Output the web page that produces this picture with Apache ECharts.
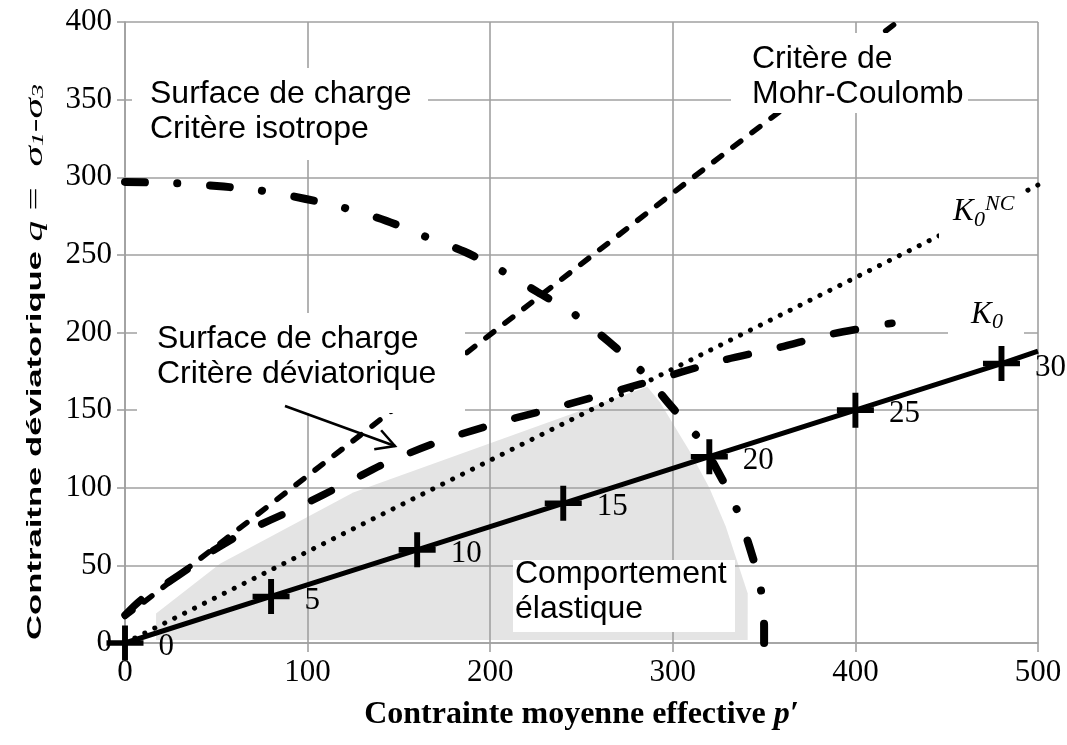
<!DOCTYPE html>
<html>
<head>
<meta charset="utf-8">
<script src="https://cdn.jsdelivr.net/npm/echarts@6/dist/echarts.min.js"></script>
<style>
  html, body { margin: 0; padding: 0; background: #fff; }
  #chart { width: 1067px; height: 745px; }
</style>
</head>
<body>
<div id="chart"></div>
<script>
// valeurs (p', q)
var k0Points = [[0, 0], [80, 30], [160, 60], [240, 90], [320, 120], [400, 150], [480, 180]];
var k0Labels = ["0", "5", "10", "15", "20", "25", "30"];
var k0Line = [[0, 0], [80, 30], [160, 60], [240, 90], [320, 120], [400, 150], [480, 180], [500, 188]];
var k0ncLine = [[0, 0], [447, 263], [500, 295]];
var mohrCoulomb = [[0, 17], [129, 134], [309, 298], [423, 400]];
var deviatoric = [[0, 18], [9, 28], [21, 37], [36, 49], [45, 57], [65, 71], [94, 87], [123, 104], [143, 116],
  [175, 131], [208, 143], [237, 152], [283, 167], [327, 182], [357, 190], [387, 199], [420, 206]];
var isotrope = [[0, 297], [30, 296], [54, 294], [77, 291], [99, 286], [121, 280], [143, 272], [164, 262],
  [186, 252], [206, 240], [226, 226], [247, 211], [265, 194], [283, 175], [298, 154], [314, 132],
  [324, 112], [334, 89], [342, 62], [348, 36], [350, 10], [350, 0]];
var elasticZone = [[17, 2], [17, 19], [52, 51], [125, 97], [286, 165], [293, 155], [309, 124],
  [320, 100], [329, 75], [341, 32], [341, 2]];
var xTicks = [0, 100, 200, 300, 400, 500];
var yTicks = [0, 50, 100, 150, 200, 250, 300, 350, 400];

var sans = '"Liberation Sans", Arial, sans-serif';
var serif = '"Liberation Serif", "Times New Roman", serif';
var gridColor = "#a0a0a0";

var myChart = echarts.init(document.getElementById("chart"));

var plusPath = "path://M42,0H58V42H100V58H58V100H42V58H0V42H42Z";

function textBox(x, y, w, h) {
  return { type: "rect", z: 100, shape: { x: x, y: y, width: w, height: h }, style: { fill: "#fff" } };
}
function label(x, y, text, font) {
  return { type: "text", z: 101, x: x, y: y, style: { text: text, font: font, fill: "#000", lineHeight: 35 } };
}

// fleche
var a0 = [285, 406], a1 = [395, 446];
var ang = Math.atan2(a1[1] - a0[1], a1[0] - a0[0]);
var wing = 21, spread = 0.5;
var w1 = [a1[0] - wing * Math.cos(ang - spread), a1[1] - wing * Math.sin(ang - spread)];
var w2 = [a1[0] - wing * Math.cos(ang + spread), a1[1] - wing * Math.sin(ang + spread)];

myChart.setOption({
  animation: false,
  grid: { left: 125, right: 29, top: 22, bottom: 102, containLabel: false },
  xAxis: {
    type: "value",
    min: 0,
    max: 500,
    interval: 100,
    z: 1,
    axisLine: { show: true, onZero: false, lineStyle: { color: gridColor, width: 1.6 } },
    axisTick: { show: true, length: 9, lineStyle: { color: gridColor, width: 1.6 } },
    splitLine: { show: true, lineStyle: { color: gridColor, width: 1.6 } },
    axisLabel: {
      color: "#000",
      fontFamily: serif,
      fontSize: 31,
      margin: 14,
      formatter: function (v) { return xTicks.indexOf(v) >= 0 ? String(v) : ""; }
    },
    name: "{b|Contrainte moyenne effective }{p|p\u2032}",
    nameLocation: "middle",
    nameGap: 56,
    nameTextStyle: {
      rich: {
        b: { fontFamily: serif, fontWeight: "bold", fontSize: 32, color: "#000" },
        p: { fontFamily: serif, fontWeight: "bold", fontStyle: "italic", fontSize: 32, color: "#000" }
      }
    }
  },
  yAxis: {
    type: "value",
    min: 0,
    max: 400,
    interval: 50,
    z: 1,
    axisLine: { show: true, onZero: false, lineStyle: { color: gridColor, width: 1.6 } },
    axisTick: { show: true, length: 8, lineStyle: { color: gridColor, width: 1.6 } },
    splitLine: { show: true, lineStyle: { color: gridColor, width: 1.6 } },
    axisLabel: {
      color: "#000",
      fontFamily: serif,
      fontSize: 31,
      margin: 13,
      formatter: function (v) { return yTicks.indexOf(v) >= 0 ? String(v) : ""; }
    }
  },
  series: [
    {
      // zone de comportement elastique
      type: "custom",
      z: 0,
      silent: true,
      data: [0],
      renderItem: function (params, api) {
        var pts = elasticZone.map(function (p) { return api.coord(p); });
        return { type: "polygon", shape: { points: pts }, style: { fill: "#e4e4e4" } };
      }
    },
    {
      name: "K0NC",
      type: "line",
      data: k0ncLine,
      symbol: "none",
      silent: true,
      lineStyle: { color: "#000", width: 5, type: [0.1, 11], cap: "round" }
    },
    {
      name: "Mohr-Coulomb",
      type: "line",
      data: mohrCoulomb,
      symbol: "none",
      silent: true,
      lineStyle: { color: "#000", width: 5.5, type: [10, 14], cap: "round" }
    },
    {
      name: "deviatorique",
      type: "line",
      data: deviatoric,
      symbol: "none",
      smooth: 0.3,
      silent: true,
      lineStyle: { color: "#000", width: 7.5, type: [22, 33], cap: "round" }
    },
    {
      name: "isotrope",
      type: "line",
      data: isotrope,
      symbol: "none",
      smooth: 0.3,
      silent: true,
      lineStyle: { color: "#000", width: 8, type: [20, 32, 0.1, 33], cap: "round" }
    },
    {
      name: "K0",
      type: "line",
      data: k0Line,
      symbol: "none",
      silent: true,
      lineStyle: { color: "#000", width: 5 }
    },
    {
      name: "K0 points",
      type: "scatter",
      z: 3,
      silent: true,
      data: k0Points.map(function (p, i) { return { value: p, name: k0Labels[i] }; }),
      symbol: plusPath,
      symbolSize: [37, 35],
      itemStyle: { color: "#000", opacity: 1 },
      label: {
        show: true,
        position: "right",
        distance: 15,
        offset: [0, 4],
        formatter: "{b}",
        fontFamily: serif,
        fontSize: 31,
        color: "#000"
      }
    }
  ],
  graphic: [
    textBox(132, 68, 296, 92),
    label(150, 77, "Surface de charge\nCrit\u00e8re isotrope", "32px " + sans),
    textBox(731, 33, 237, 80),
    label(752, 42, "Crit\u00e8re de\nMohr-Coulomb", "32px " + sans),
    textBox(939, 181, 82, 70),
    { type: "text", z: 101, x: 953, y: 196, style: { text: "K", font: "italic 31px " + serif, fill: "#000" } },
    { type: "text", z: 101, x: 974, y: 209, style: { text: "0", font: "italic 22px " + serif, fill: "#000" } },
    { type: "text", z: 101, x: 985, y: 193, style: { text: "NC", font: "italic 22px " + serif, fill: "#000" } },
    textBox(948, 290, 76, 46),
    { type: "text", z: 101, x: 971, y: 299, style: { text: "K", font: "italic 31px " + serif, fill: "#000" } },
    { type: "text", z: 101, x: 992, y: 311, style: { text: "0", font: "italic 22px " + serif, fill: "#000" } },
    textBox(137, 313, 328, 100),
    label(157, 322, "Surface de charge\nCrit\u00e8re d\u00e9viatorique", "32px " + sans),
    textBox(513, 560, 222, 72),
    label(515, 557, "Comportement\n\u00e9lastique", "32px " + sans),
    {
      type: "polyline", z: 102,
      shape: { points: [a0, a1] },
      style: { stroke: "#000", lineWidth: 2.5, fill: null }
    },
    {
      type: "polyline", z: 102,
      shape: { points: [w1, a1, w2] },
      style: { stroke: "#000", lineWidth: 2.5, fill: null }
    },
    {
      // titre de l'axe vertical
      type: "text", z: 101,
      x: 35, y: 362,
      rotation: Math.PI / 2,
      scaleX: 1.65,
      style: {
        text: "{a|Contraitne d\u00e9viatorique }{q|q}{c| =  }{q|\u03c3}{s|1}{c|-}{q|\u03c3}{s|3}",
        align: "center",
        verticalAlign: "middle",
        fill: "#000",
        rich: {
          a: { font: "bold 21px " + sans, fill: "#000" },
          q: { font: "italic 25px " + serif, fill: "#000" },
          c: { font: "25px " + serif, fill: "#000" },
          s: { font: "italic 17px " + serif, fill: "#000", verticalAlign: "bottom" }
        }
      }
    }
  ]
});
</script>
</body>
</html>
